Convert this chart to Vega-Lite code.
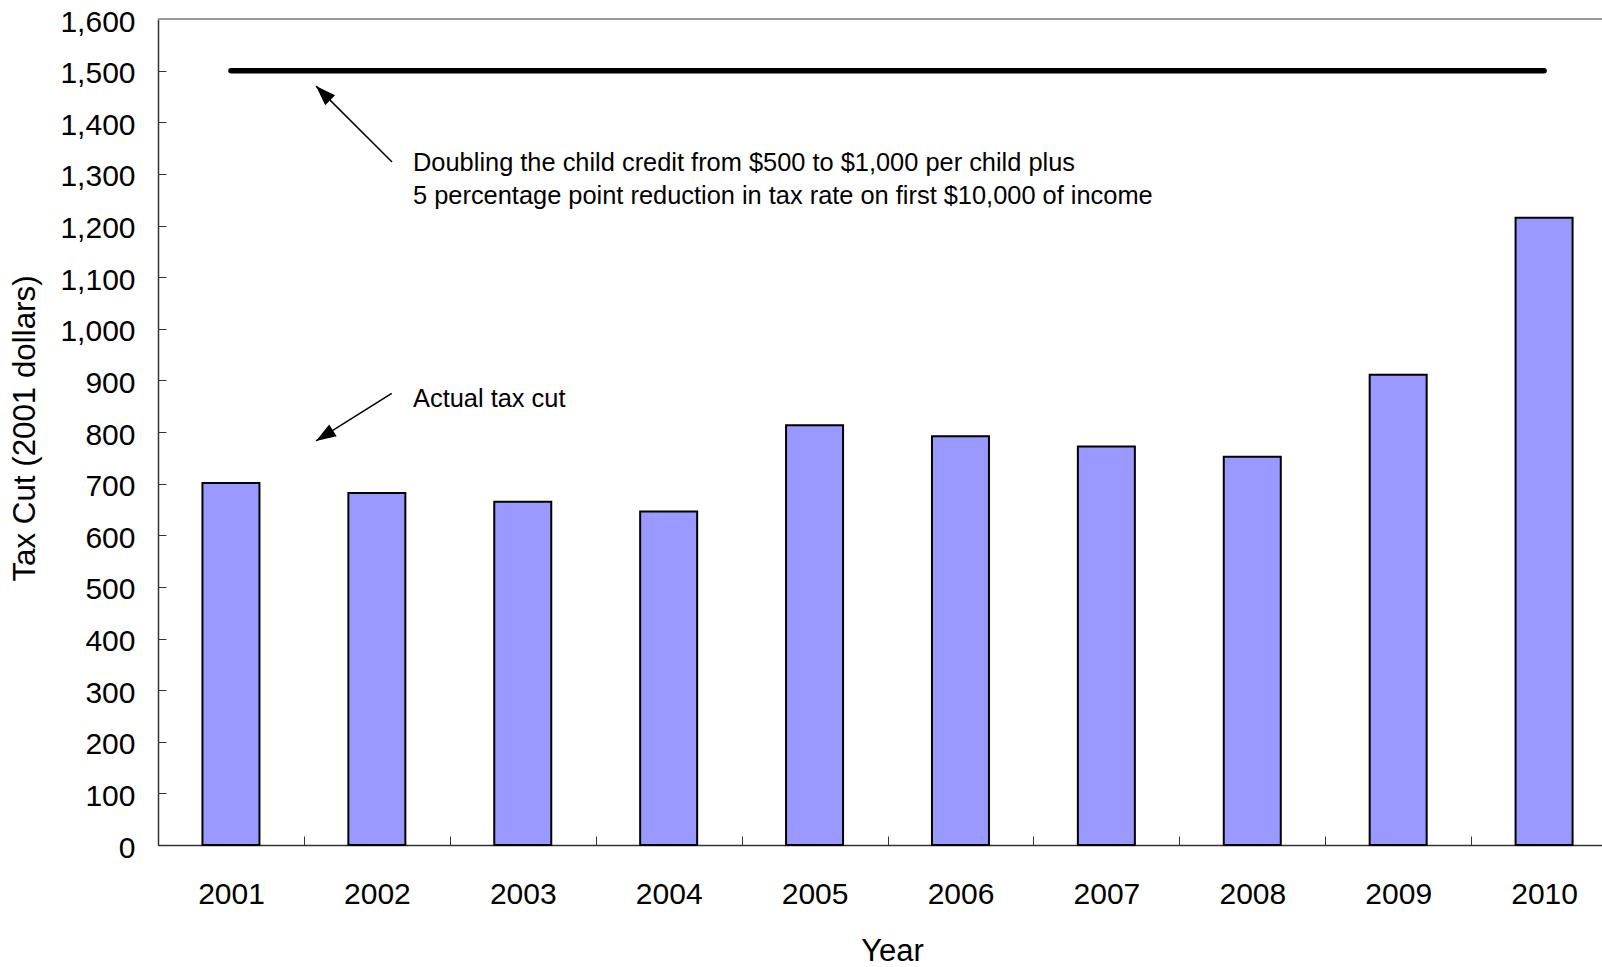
{
  "$schema": "https://vega.github.io/schema/vega-lite/v6.json",
  "width": 1444,
  "height": 826,
  "autosize": {"type": "none"},
  "padding": {"left": 158, "top": 19, "right": 0, "bottom": 122},
  "background": "white",
  "config": {
    "font": "Liberation Sans",
    "view": {"stroke": null},
    "axis": {"grid": false}
  },
  "datasets": {
    "bars": [
      {"year": 2001, "taxcut": 701},
      {"year": 2002, "taxcut": 682},
      {"year": 2003, "taxcut": 665},
      {"year": 2004, "taxcut": 646},
      {"year": 2005, "taxcut": 813},
      {"year": 2006, "taxcut": 792},
      {"year": 2007, "taxcut": 772},
      {"year": 2008, "taxcut": 752},
      {"year": 2009, "taxcut": 911},
      {"year": 2010, "taxcut": 1215}
    ],
    "proposal": [
      {"year": 2001, "value": 1500},
      {"year": 2002, "value": 1500},
      {"year": 2003, "value": 1500},
      {"year": 2004, "value": 1500},
      {"year": 2005, "value": 1500},
      {"year": 2006, "value": 1500},
      {"year": 2007, "value": 1500},
      {"year": 2008, "value": 1500},
      {"year": 2009, "value": 1500},
      {"year": 2010, "value": 1500}
    ],
    "arrows": [
      {"name": "proposal", "x": 2002.104, "y": 1323, "x2": 2001.583, "y2": 1470},
      {"name": "actual", "x": 2002.102, "y": 875, "x2": 2001.583, "y2": 782.6}
    ],
    "tipUp": [{"x": 2001.583, "y": 1470}],
    "tipDown": [{"x": 2001.583, "y": 782.6}],
    "notes": [
      {"x": 2002.248, "y": 1306, "label": "Doubling the child credit from $500 to $1,000 per child plus"},
      {"x": 2002.248, "y": 1241.6, "label": "5 percentage point reduction in tax rate on first $10,000 of income"},
      {"x": 2002.248, "y": 847.8, "label": "Actual tax cut"}
    ]
  },
  "layer": [
    {
      "data": {"name": "bars"},
      "mark": {"type": "bar", "orient": "vertical", "width": 57, "fill": "#9999FF", "stroke": "black", "strokeWidth": 2},
      "encoding": {
        "x": {
          "field": "year", "type": "quantitative", "title": "Year",
          "scale": {"domain": [2000.5, 2010.397], "nice": false, "zero": false, "padding": 0},
          "axis": {
            "titleFontSize": 31, "titleFontWeight": "normal", "titleColor": "black",
            "titleX": 734, "titleY": 106, "titleBaseline": "middle",
            "values": [2000.5, 2001.5, 2002.5, 2003.5, 2004.5, 2005.5, 2006.5, 2007.5, 2008.5, 2009.5],
            "labelExpr": "format(datum.value + 0.5, 'd')",
            "labelOffset": 73,
            "labelFlush": false,
            "labelOverlap": false,
            "labelFontSize": 30, "labelColor": "black",
            "labelPadding": 43,
            "tickSize": -9, "tickColor": "#333", "tickWidth": 1,
            "domainColor": "#333", "domainWidth": 1.5
          }
        },
        "y": {
          "field": "taxcut", "type": "quantitative", "title": "Tax Cut (2001 dollars)",
          "scale": {"domain": [0, 1600], "nice": false},
          "axis": {
            "titleFontSize": 31.3, "titleFontWeight": "normal", "titleColor": "black",
            "titleX": -133, "titleY": 409, "titleBaseline": "middle", "titleAlign": "center", "titleAngle": -90,
            "values": [0, 100, 200, 300, 400, 500, 600, 700, 800, 900, 1000, 1100, 1200, 1300, 1400, 1500, 1600],
            "labelExpr": "format(datum.value, ',d')",
            "labelFontSize": 30, "labelColor": "black",
            "labelPadding": 31,
            "labelOffset": 3,
            "tickSize": -8, "tickColor": "#333", "tickWidth": 1,
            "domainColor": "#333", "domainWidth": 1.5
          }
        }
      }
    },
    {
      "data": {"name": "proposal"},
      "mark": {"type": "line", "color": "black", "strokeWidth": 5.5, "strokeCap": "round"},
      "encoding": {
        "x": {"field": "year", "type": "quantitative", "title": "Year"},
        "y": {"field": "value", "type": "quantitative", "title": "Tax Cut (2001 dollars)"}
      }
    },
    {
      "data": {"name": "proposal"},
      "mark": {"type": "rule", "color": "#999999", "strokeWidth": 1},
      "encoding": {
        "y": {"datum": 1600, "type": "quantitative", "title": "Tax Cut (2001 dollars)"}
      }
    },
    {
      "data": {"name": "arrows"},
      "mark": {"type": "rule", "color": "black", "strokeWidth": 1.5},
      "encoding": {
        "x": {"field": "x", "type": "quantitative", "title": "Year"},
        "x2": {"field": "x2"},
        "y": {"field": "y", "type": "quantitative", "title": "Tax Cut (2001 dollars)"},
        "y2": {"field": "y2"}
      }
    },
    {
      "data": {"name": "tipUp"},
      "mark": {"type": "point", "shape": "M0,0L-1.4,4L1.4,4Z", "filled": true, "color": "black", "opacity": 1, "size": 100, "angle": 315, "strokeWidth": 0},
      "encoding": {
        "x": {"field": "x", "type": "quantitative", "title": "Year"},
        "y": {"field": "y", "type": "quantitative", "title": "Tax Cut (2001 dollars)"}
      }
    },
    {
      "data": {"name": "tipDown"},
      "mark": {"type": "point", "shape": "M0,0L-1.4,4L1.4,4Z", "filled": true, "color": "black", "opacity": 1, "size": 100, "angle": 237.8, "strokeWidth": 0},
      "encoding": {
        "x": {"field": "x", "type": "quantitative", "title": "Year"},
        "y": {"field": "y", "type": "quantitative", "title": "Tax Cut (2001 dollars)"}
      }
    },
    {
      "data": {"name": "notes"},
      "mark": {"type": "text", "align": "left", "baseline": "alphabetic", "fontSize": 25.4, "color": "black"},
      "encoding": {
        "x": {"field": "x", "type": "quantitative", "title": "Year"},
        "y": {"field": "y", "type": "quantitative", "title": "Tax Cut (2001 dollars)"},
        "text": {"field": "label"}
      }
    }
  ]
}
